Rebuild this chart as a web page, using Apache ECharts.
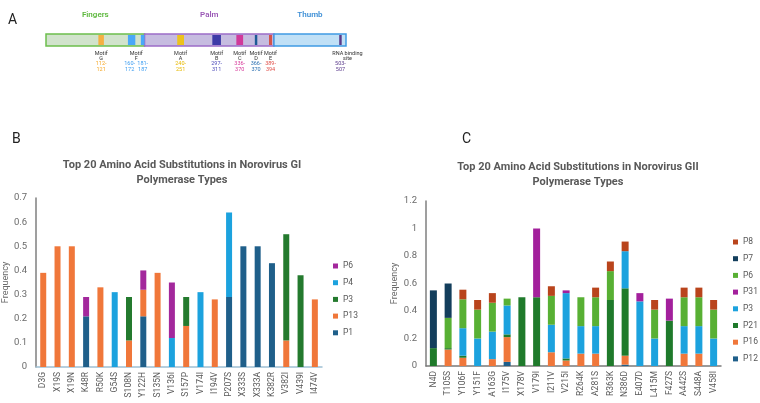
<!DOCTYPE html>
<html>
<head>
<meta charset="utf-8">
<script src="https://cdn.jsdelivr.net/npm/echarts@6/dist/echarts.min.js"></script>
<style>
  html, body { margin: 0; background: #fff; }
  #chart { width: 760px; height: 403px; }
</style>
</head>
<body>
<div id="chart"></div>
<script>
// panel A: polymerase domains, residue numbers
const domainNames = ['Fingers', 'Palm', 'Thumb']
const domainStart = [27, 187, 397]
const domainEnd = [187, 397, 514]
const motifNames = ['G', 'F', 'F', 'A', 'B', 'C', 'D', 'E', 'RNA']
const motifStart = [112, 160, 181, 240, 297, 336, 366, 389, 503]
const motifEnd = [121, 172, 187, 251, 311, 347, 370, 394, 507]
const motifRanges = ['112-\n121', '160-\n172', '181-\n187', '240-\n251', '297-\n311', '336-\n370', '366-\n370', '389-\n394', '503-\n507']

// panel B: GI polymerase types
const giSites = ['D3G', 'X19S', 'X19N', 'K48R', 'R50K', 'G54S', 'S108N', 'Y122H', 'S135N', 'V136I', 'S157P', 'V174I', 'I194V', 'P207S', 'X333S', 'X333A', 'K382R', 'V382I', 'V439I', 'I474V']
const giTypes = ['P1', 'P13', 'P3', 'P4', 'P6']
const giP1 = [0, 0, 0, 0.21, 0, 0, 0, 0.21, 0, 0, 0, 0, 0, 0.29, 0.5, 0.5, 0.43, 0, 0, 0]
const giP13 = [0.39, 0.5, 0.5, 0, 0.33, 0, 0.11, 0.11, 0.39, 0, 0.17, 0, 0.28, 0, 0, 0, 0, 0.11, 0, 0.28]
const giP3 = [0, 0, 0, 0, 0, 0, 0.18, 0, 0, 0, 0.12, 0, 0, 0, 0, 0, 0, 0.44, 0.38, 0]
const giP4 = [0, 0, 0, 0, 0, 0.31, 0, 0, 0, 0.12, 0, 0.31, 0, 0.35, 0, 0, 0, 0, 0, 0]
const giP6 = [0, 0, 0, 0.08, 0, 0, 0, 0.08, 0, 0.23, 0, 0, 0, 0, 0, 0, 0, 0, 0, 0]
const giTicks = [0, 0.1, 0.2, 0.3, 0.4, 0.5, 0.6, 0.7]

// panel C: GII polymerase types
const giiSites = ['N4D', 'T105S', 'Y106F', 'Y151F', 'A163G', 'I175V', 'X178V', 'V179I', 'I211V', 'V215I', 'R264K', 'A281S', 'R363K', 'N386D', 'E407D', 'L415M', 'F427S', 'A442S', 'S448A', 'V458I']
const giiTypes = ['P12', 'P16', 'P21', 'P3', 'P31', 'P6', 'P7', 'P8']
const giiP12 = [0, 0, 0, 0, 0, 0.03, 0, 0, 0, 0, 0, 0, 0, 0.01, 0, 0, 0, 0, 0, 0]
const giiP16 = [0, 0.12, 0.06, 0, 0.05, 0.18, 0, 0, 0.1, 0.04, 0.09, 0.09, 0, 0.065, 0, 0, 0, 0.09, 0.09, 0]
const giiP21 = [0.13, 0.01, 0.015, 0, 0, 0.02, 0.5, 0.5, 0, 0.015, 0, 0, 0.48, 0.49, 0, 0, 0.33, 0, 0, 0]
const giiP3 = [0, 0, 0.2, 0.2, 0.2, 0.21, 0, 0, 0.2, 0.475, 0.2, 0.2, 0, 0.27, 0.47, 0.2, 0, 0.2, 0.2, 0.2]
const giiP31 = [0, 0, 0, 0, 0, 0, 0, 0.5, 0, 0.02, 0, 0, 0, 0, 0.06, 0, 0.16, 0, 0, 0]
const giiP6 = [0, 0.22, 0.21, 0.21, 0.21, 0.05, 0, 0, 0.21, 0, 0.21, 0.21, 0.21, 0, 0, 0.21, 0, 0.21, 0.21, 0.21]
const giiP7 = [0.42, 0.25, 0, 0, 0, 0, 0, 0, 0, 0, 0, 0, 0, 0, 0, 0, 0, 0, 0, 0]
const giiP8 = [0, 0, 0.07, 0.07, 0.07, 0, 0, 0, 0.07, 0, 0, 0.07, 0.07, 0.07, 0, 0.07, 0, 0.07, 0.07, 0.07]
const giiTicks = [0, 0.2, 0.4, 0.6, 0.8, 1, 1.2]

const giData = [giP1, giP13, giP3, giP4, giP6]
const giiData = [giiP12, giiP16, giiP21, giiP3, giiP31, giiP6, giiP7, giiP8]
const giColors = ['#1f5f8a', '#f0773a', '#247a2e', '#1ca2de', '#a3289c']
const giiColors = ['#1f5f8a', '#f0773a', '#1f7a2b', '#1ca2de', '#a3209c', '#58b034', '#133e5c', '#b9441c']

const domainFill = ['#d1e3cc', '#c6bce0', '#c0e0f6']
const domainStroke = ['#6cbf4c', '#9c6cc8', '#3f9ae3']
const domainText = ['#5cb83c', '#9b59b6', '#3d8fd6']
const motifFill = ['#f4b042', '#4aa8f8', '#4aa8f8', '#ecc21c', '#3d3aa8', '#d0399a', '#1c5a96', '#d4534a', '#5a3a8a']
const motifText = ['#f5a623', '#3d9df0', '#3d9df0', '#e6b800', '#4a48b8', '#d63a9a', '#2a6fb0', '#e0504a', '#5b3b8c']

const font = 'Roboto, "Open Sans", sans-serif'
const gray = '#595959'

const myChart = echarts.init(document.getElementById('chart'))

const domainRows = domainNames.map((n, i) => [domainStart[i], domainEnd[i]])
const motifRows = motifNames.map((n, i) => [motifStart[i], motifEnd[i]])

const series = [
  {
    type: 'custom',
    xAxisIndex: 0,
    yAxisIndex: 0,
    z: 1,
    silent: true,
    data: domainRows,
    renderItem(params, api) {
      const i = params.dataIndex
      const s = api.coord([api.value(0), 1])
      const e = api.coord([api.value(1), 0])
      return {
        type: 'group',
        children: [
          { type: 'rect', shape: { x: s[0], y: s[1], width: e[0] - s[0], height: e[1] - s[1] }, style: { fill: domainFill[i], stroke: domainStroke[i], lineWidth: 1.5 } },
          { type: 'text', style: { text: domainNames[i], x: (s[0] + e[0]) / 2, y: s[1] - 19, fill: domainText[i], font: '600 8px ' + font, textAlign: 'center', textVerticalAlign: 'middle' } },
        ],
      }
    },
  },
  {
    type: 'custom',
    xAxisIndex: 0,
    yAxisIndex: 0,
    z: 2,
    silent: true,
    data: motifRows,
    renderItem(params, api) {
      const i = params.dataIndex
      const s = api.coord([api.value(0), 1])
      const e = api.coord([api.value(1), 0])
      const cx = (s[0] + e[0]) / 2
      const children = [
        { type: 'rect', shape: { x: s[0], y: s[1] + 1, width: e[0] - s[0], height: e[1] - s[1] - 2 }, style: { fill: motifFill[i] } },
        { type: 'text', style: { text: motifRanges[i], x: motifNames[i] === 'F' && motifStart[i] < 170 ? cx - 2 : cx, y: e[1] + 14, fill: motifText[i], font: '5.5px ' + font, lineHeight: 6.5, textAlign: 'center' } },
      ]
      // one name label per motif group, centred over the whole group
      if (motifNames.indexOf(motifNames[i]) === i) {
        const idx = motifNames.map((n, k) => (n === motifNames[i] ? k : -1)).filter((k) => k >= 0)
        const lo = Math.min(...idx.map((k) => motifStart[k]))
        const hi = Math.max(...idx.map((k) => motifEnd[k]))
        const gx = (api.coord([lo, 0])[0] + api.coord([hi, 0])[0]) / 2
        const txt = motifNames[i] === 'RNA' ? 'RNA binding\nsite' : 'Motif\n' + motifNames[i]
        children.push({ type: 'text', style: { text: txt, x: motifNames[i] === 'RNA' ? gx + 7 : gx, y: e[1] + 4.5, fill: '#333', font: '5.5px ' + font, lineHeight: 5.5, textAlign: 'center' } })
      }
      return { type: 'group', children }
    },
  },
]

giTypes.forEach((t, i) => {
  series.push({
    name: t,
    type: 'bar',
    stack: 'gi',
    xAxisIndex: 1,
    yAxisIndex: 1,
    barWidth: 6,
    itemStyle: { color: giColors[i] },
    data: giData[i],
  })
})
giiTypes.forEach((t, i) => {
  series.push({
    name: t,
    type: 'bar',
    stack: 'gii',
    xAxisIndex: 2,
    yAxisIndex: 2,
    barWidth: 7,
    itemStyle: { color: giiColors[i] },
    data: giiData[i],
  })
})

const catAxis = (grid, data, lineColor) => ({
  gridIndex: grid,
  type: 'category',
  data,
  axisLine: { lineStyle: { color: lineColor, width: 1.5 } },
  axisTick: { show: false },
  axisLabel: { rotate: 90, fontSize: 8.5, color: gray, fontFamily: font, margin: 5 },
})
const valAxis = (grid, max, interval, gap) => ({
  gridIndex: grid,
  type: 'value',
  min: 0,
  max,
  interval,
  name: 'Frequency',
  nameLocation: 'middle',
  nameGap: gap,
  nameTextStyle: { fontSize: 9, color: '#6a6a6a', fontFamily: font },
  axisLine: { show: true, lineStyle: { color: '#7f7f7f', width: 1.5 } },
  axisTick: { show: false },
  splitLine: { show: false },
  axisLabel: { fontSize: 9.5, color: '#6a6a6a', fontFamily: font, margin: 9 },
})

const legendBase = {
  orient: 'vertical',
  padding: 0,
  itemWidth: 5,
  itemHeight: 5,
  itemGap: 6.7,
  selectedMode: false,
  textStyle: { fontSize: 8.5, color: gray, fontFamily: font, lineHeight: 10 },
}

const option = {
  animation: false,
  backgroundColor: '#fff',
  title: [
    { text: 'A', left: 3, top: 8, textStyle: { fontSize: 14, fontWeight: 'normal', color: '#222', fontFamily: font } },
    { text: 'B', left: 7, top: 127, textStyle: { fontSize: 14, fontWeight: 'normal', color: '#222', fontFamily: font } },
    { text: 'C', left: 457, top: 127, textStyle: { fontSize: 14, fontWeight: 'normal', color: '#222', fontFamily: font } },
    { text: 'Top 20 Amino Acid Substitutions in Norovirus GI\nPolymerase Types', left: 177, top: 153, textAlign: 'center', textStyle: { fontSize: 11, fontWeight: 'bold', color: gray, lineHeight: 15, fontFamily: font } },
    { text: 'Top 20 Amino Acid Substitutions in Norovirus GII\nPolymerase Types', left: 573, top: 155, textAlign: 'center', textStyle: { fontSize: 11, fontWeight: 'bold', color: gray, lineHeight: 15, fontFamily: font } },
  ],
  legend: [
    Object.assign({}, legendBase, {
      left: 333,
      top: 261,
      data: giTypes.slice().reverse().map((t) => ({ name: t, icon: 'rect', itemStyle: { color: giColors[giTypes.indexOf(t)] } })),
    }),
    Object.assign({}, legendBase, {
      left: 733,
      top: 237,
      data: giiTypes.slice().reverse().map((t) => ({ name: t, icon: 'rect', itemStyle: { color: giiColors[giiTypes.indexOf(t)] } })),
    }),
  ],
  grid: [
    { left: 46, width: 300, top: 34, height: 12 },
    { left: 36, width: 286, top: 198, bottom: 36 },
    { left: 426, width: 295, top: 201, bottom: 37 },
  ],
  xAxis: [
    { gridIndex: 0, type: 'value', min: 27, max: 514, show: false },
    catAxis(1, giSites, '#9fc0d4'),
    catAxis(2, giiSites, '#7a7a7a'),
  ],
  yAxis: [
    { gridIndex: 0, type: 'value', min: 0, max: 1, show: false },
    valAxis(1, giTicks[giTicks.length - 1], giTicks[1] - giTicks[0], 22),
    valAxis(2, giiTicks[giiTicks.length - 1], giiTicks[1] - giiTicks[0], 27),
  ],
  series,
}

myChart.setOption(option)
</script>
</body>
</html>
